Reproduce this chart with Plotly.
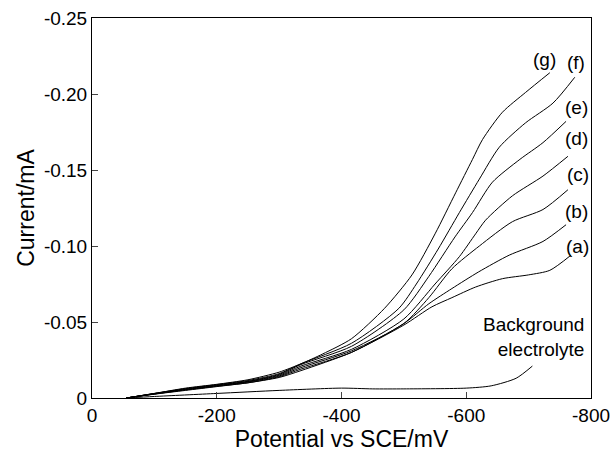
import plotly.graph_objects as go

# Potentials (mV, vs SCE) and currents (mA)
E_g = [-55, -100, -150, -200, -250, -300, -335, -370, -416, -469, -513, -550, -583, -610, -626, -658, -695, -734]
I_g = [0, -0.003, -0.0065, -0.009, -0.012, -0.017, -0.0225, -0.029, -0.039, -0.059, -0.081, -0.108, -0.135, -0.157, -0.170, -0.188, -0.201, -0.214]

E_f = [-55, -100, -150, -200, -250, -300, -335, -416, -492, -520, -555, -589, -621, -653, -695, -739, -774]
I_f = [0, -0.003, -0.0062, -0.0088, -0.0115, -0.016, -0.0225, -0.036, -0.059, -0.075, -0.098, -0.122, -0.144, -0.165, -0.181, -0.194, -0.211]

E_e = [-55, -100, -150, -200, -250, -300, -335, -416, -500, -540, -582, -610, -642, -686, -723, -760]
I_e = [0, -0.0029, -0.006, -0.0085, -0.011, -0.0155, -0.022, -0.034, -0.058, -0.080, -0.106, -0.122, -0.142, -0.157, -0.168, -0.182]

E_d = [-55, -100, -150, -200, -250, -300, -335, -416, -500, -550, -589, -615, -631, -674, -723, -763]
I_d = [0, -0.0028, -0.0057, -0.0082, -0.0108, -0.015, -0.021, -0.032, -0.052, -0.075, -0.093, -0.108, -0.117, -0.133, -0.146, -0.159]

E_c = [-55, -100, -150, -200, -250, -300, -335, -416, -500, -540, -577, -621, -674, -723, -763]
I_c = [0, -0.0027, -0.0055, -0.008, -0.0105, -0.0145, -0.020, -0.031, -0.049, -0.066, -0.085, -0.100, -0.116, -0.124, -0.137]

E_b = [-55, -100, -150, -200, -250, -300, -335, -416, -500, -540, -577, -620, -669, -723, -760]
I_b = [0, -0.0026, -0.0053, -0.0077, -0.010, -0.014, -0.019, -0.030, -0.049, -0.062, -0.072, -0.083, -0.094, -0.103, -0.114]

E_a = [-55, -100, -150, -200, -250, -300, -335, -416, -500, -545, -577, -615, -658, -700, -734, -768]
I_a = [0, -0.0025, -0.005, -0.0075, -0.010, -0.0135, -0.018, -0.030, -0.048, -0.060, -0.066, -0.073, -0.0785, -0.081, -0.084, -0.094]

E_bg = [-55, -100, -200, -300, -400, -450, -500, -600, -640, -680, -706]
I_bg = [0, -0.001, -0.003, -0.005, -0.0065, -0.006, -0.006, -0.0065, -0.008, -0.013, -0.021]

curves = [("(a)", E_a, I_a, -779, -0.100),
          ("(b)", E_b, I_b, -776, -0.123),
          ("(c)", E_c, I_c, -779, -0.147),
          ("(d)", E_d, I_d, -776, -0.171),
          ("(e)", E_e, I_e, -776, -0.191),
          ("(f)", E_f, I_f, -776, -0.221),
          ("(g)", E_g, I_g, -726, -0.2224)]

x_ticks = [0, -200, -400, -600, -800]
x_labels = ["0", "-200", "-400", "-600", "-800"]
y_ticks = [0, -0.05, -0.10, -0.15, -0.20, -0.25]
y_labels = ["0", "-0.05", "-0.10", "-0.15", "-0.20", "-0.25"]

FS = 19
fig = go.Figure()
for name, E, I, lx, ly in curves:
    fig.add_trace(go.Scatter(x=E, y=I, mode="lines", line=dict(color="black", width=1, shape="spline", smoothing=0.7),
                             showlegend=False, hoverinfo="skip"))
    fig.add_annotation(x=lx, y=ly, text=name, showarrow=False, font=dict(size=FS, color="black"))

fig.add_trace(go.Scatter(x=E_bg, y=I_bg, mode="lines", line=dict(color="black", width=1, shape="spline", smoothing=0.7),
                         showlegend=False, hoverinfo="skip"))
fig.add_annotation(x=-792, y=-0.040, text="Background<br>electrolyte", showarrow=False, xanchor="right",
                   align="right", font=dict(size=FS, color="black"))

font_family = "Liberation Sans, Arial, sans-serif"
fig.update_layout(
    width=610, height=452,
    margin=dict(l=92, r=19, t=18, b=54),
    paper_bgcolor="white", plot_bgcolor="white",
    font=dict(family=font_family, size=FS, color="black"),
    xaxis=dict(range=[0, -800], tickvals=x_ticks, ticktext=x_labels, ticks="inside", ticklen=6,
               showline=True, linecolor="black", linewidth=1, mirror=True, showgrid=False, zeroline=False,
               ticklabeloverflow="allow", automargin=False,
               title=dict(text="Potential vs SCE/mV", standoff=2), tickfont=dict(size=FS)),
    yaxis=dict(range=[0, -0.25], tickvals=y_ticks, ticktext=y_labels, ticks="inside", ticklen=6,
               showline=True, linecolor="black", linewidth=1, mirror=True, showgrid=False, zeroline=False,
               ticklabeloverflow="allow", automargin=False,
               title=dict(text="Current/mA", standoff=2), tickfont=dict(size=FS)),
)
fig.write_html("out.html")
